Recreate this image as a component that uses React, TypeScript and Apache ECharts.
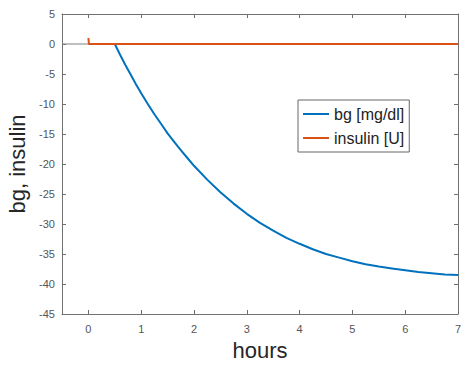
import React, { useEffect, useRef } from "react";
import * as echarts from "echarts";

const xTicks = [0, 1, 2, 3, 4, 5, 6, 7];
const bgPoints: [number, number][] = [
  [0, 0], [0.5, 0], [0.6, -1.8], [0.7, -3.5], [0.8, -5.1], [0.9, -6.7], [1.0, -8.2],
  [1.125, -10.0], [1.25, -11.7], [1.375, -13.3], [1.5, -14.9], [1.625, -16.3], [1.75, -17.7],
  [1.875, -19.0], [2.0, -20.3], [2.25, -22.6], [2.5, -24.7], [2.75, -26.6], [3.0, -28.3],
  [3.25, -29.8], [3.5, -31.1], [3.75, -32.3], [4.0, -33.3], [4.25, -34.2], [4.5, -35.0],
  [4.75, -35.6], [5.0, -36.2], [5.25, -36.7], [5.5, -37.1], [5.75, -37.4], [6.0, -37.7],
  [6.25, -38.0], [6.5, -38.2], [6.75, -38.4], [7.0, -38.5],
];
const insulinPoints: [number, number][] = [[0, 1], [0.01, 0], [7, 0]];
const zeroLinePoints: [number, number][] = [[-0.5, 0], [0, 0]];

export default function App() {
  const ref = useRef<HTMLDivElement>(null);
  useEffect(() => {
    const chart = echarts.init(ref.current!, null, { renderer: "svg" });
    const axisColor = "#707070";
    const labelColor = "#555";
    const font = "Liberation Sans, Arial, sans-serif";
    chart.setOption({
      animation: false,
      textStyle: { fontFamily: font },
      grid: { left: 62, right: 3, top: 14, bottom: 54, containLabel: false, outerBoundsMode: "none" },
      legend: {
        data: [
          { name: "bg [mg/dl]", icon: "rect" },
          { name: "insulin [U]", icon: "rect" },
        ],
        orient: "vertical",
        left: 298,
        top: 100,
        borderColor: "#666",
        borderWidth: 1,
        padding: [6, 5, 6, 5],
        itemGap: 8,
        itemWidth: 26,
        itemHeight: 2,
        textStyle: { fontSize: 16, color: "#222", fontFamily: font },
        backgroundColor: "#fff",
      },
      xAxis: [
        {
          type: "value",
          min: -0.5,
          max: 7,
          position: "bottom",
          name: "hours",
          nameLocation: "middle",
          nameGap: 25,
          nameTextStyle: { fontSize: 22, color: "#262626", fontFamily: font },
          axisLine: { onZero: false, lineStyle: { color: axisColor } },
          axisTick: { inside: true, length: 4, customValues: xTicks, lineStyle: { color: axisColor } },
          axisLabel: { customValues: xTicks, color: labelColor, fontSize: 11, margin: 9 },
          splitLine: { show: false },
        },
        {
          type: "value",
          min: -0.5,
          max: 7,
          position: "top",
          axisLine: { onZero: false, lineStyle: { color: axisColor } },
          axisTick: { inside: true, length: 4, customValues: xTicks, lineStyle: { color: axisColor } },
          axisLabel: { show: false },
          splitLine: { show: false },
        },
      ],
      yAxis: [
        {
          type: "value",
          min: -45,
          max: 5,
          interval: 5,
          position: "left",
          name: "bg, insulin",
          nameLocation: "middle",
          nameGap: 32,
          nameTextStyle: { fontSize: 22, color: "#262626", fontFamily: font },
          axisLine: { show: true, onZero: false, lineStyle: { color: axisColor } },
          axisTick: { show: true, inside: true, length: 4, lineStyle: { color: axisColor } },
          axisLabel: { color: labelColor, fontSize: 11, margin: 7 },
          splitLine: { show: false },
        },
        {
          type: "value",
          min: -45,
          max: 5,
          interval: 5,
          position: "right",
          axisLine: { show: true, onZero: false, lineStyle: { color: axisColor } },
          axisTick: { show: true, inside: true, length: 4, lineStyle: { color: axisColor } },
          axisLabel: { show: false },
          splitLine: { show: false },
        },
      ],
      series: [
        {
          name: "zero",
          type: "line",
          data: zeroLinePoints,
          symbol: "none",
          lineStyle: { color: "#808080", width: 1 },
          z: 1,
        },
        {
          name: "bg [mg/dl]",
          type: "line",
          data: bgPoints,
          symbol: "none",
          color: "#0072BD",
          lineStyle: { color: "#0072BD", width: 2 },
          z: 2,
        },
        {
          name: "insulin [U]",
          type: "line",
          data: insulinPoints,
          symbol: "none",
          color: "#D95319",
          lineStyle: { color: "#D95319", width: 2 },
          z: 3,
        },
      ],
    });
    return () => chart.dispose();
  }, []);
  return <div ref={ref} style={{ width: 461, height: 368, position: "absolute", left: 0, top: 0 }} />;
}
